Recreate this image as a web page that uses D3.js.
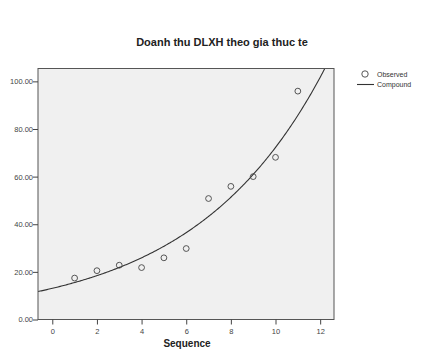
<!DOCTYPE html>
<html><head><meta charset="utf-8">
<script src="https://cdn.jsdelivr.net/npm/d3@7"></script>
<style>body{margin:0;background:#fff}svg{display:block}</style>
</head><body>
<script>
const title = "Doanh thu DLXH theo gia thuc te";
const xLabel = "Sequence";
const sequence = [1,2,3,4,5,6,7,8,9,10,11];
const observed = [17.4,20.5,22.8,21.8,25.9,29.8,50.8,55.9,60.0,68.1,95.9];
const xTicks = [0,2,4,6,8,10,12];
const yTicks = [0,20,40,60,80,100];
const legendLabels = ["Observed","Compound"];

const W=444,H=356;
const svg=d3.select("body").append("svg").attr("width",W).attr("height",H);
const L=38,R=334,T=68.5,B=319.5;
const x=d3.scaleLinear().domain([-0.64,12.62]).range([L,R]);
const y=d3.scaleLinear().domain([0,105.4]).range([B,T]);

// compound fit: ln(y) = ln(b0) + x ln(b1)
const lx=sequence, ly=observed.map(Math.log);
const mx=d3.mean(lx), my=d3.mean(ly);
const slope=d3.sum(lx,(v,i)=>(v-mx)*(ly[i]-my))/d3.sum(lx,v=>(v-mx)*(v-mx));
const b0=Math.exp(my-slope*mx);

svg.append("rect").attr("x",L).attr("y",T).attr("width",R-L).attr("height",B-T).attr("fill","#f0f0f0");

const clip=svg.append("clipPath").attr("id","c").append("rect").attr("x",L).attr("y",T).attr("width",R-L).attr("height",B-T);
const xs=d3.range(-0.64,12.7,0.05);
svg.append("path").attr("clip-path","url(#c)")
  .attr("d",d3.line().x(d=>x(d)).y(d=>y(b0*Math.exp(slope*d)))(xs))
  .attr("fill","none").attr("stroke","#333").attr("stroke-width",1.1);

svg.selectAll("circle.o").data(sequence).join("circle").attr("class","o")
  .attr("cx",d=>x(d)).attr("cy",(d,i)=>y(observed[i])).attr("r",2.9)
  .attr("fill","none").attr("stroke","#444").attr("stroke-width",0.9);

svg.append("rect").attr("x",L).attr("y",T).attr("width",R-L).attr("height",B-T).attr("fill","none").attr("stroke","#555").attr("stroke-width",1);

const font="Liberation Sans, Arial, sans-serif";
const ax=svg.append("g").attr("transform",`translate(0,${B})`)
  .call(d3.axisBottom(x).tickValues(xTicks).tickSize(5).tickSizeOuter(0));
ax.select(".domain").remove();
ax.selectAll("line").attr("stroke","#444");
ax.selectAll("text").attr("font-family",font).attr("font-size",7.5).attr("fill","#444").attr("dy","0.9em");

const ay=svg.append("g").attr("transform",`translate(${L},0)`)
  .call(d3.axisLeft(y).tickValues(yTicks).tickFormat(d3.format(".2f")).tickSize(5).tickSizeOuter(0));
ay.select(".domain").remove();
ay.selectAll("line").attr("stroke","#444");
ay.selectAll("text").attr("font-family",font).attr("font-size",7.5).attr("fill","#444").attr("x",-5);

svg.append("text").attr("x",222).attr("y",46).attr("text-anchor","middle")
  .attr("font-family",font).attr("font-weight","bold").attr("font-size",11).attr("fill","#222").text(title);
svg.append("text").attr("x",187).attr("y",347).attr("text-anchor","middle")
  .attr("font-family",font).attr("font-weight","bold").attr("font-size",10).attr("fill","#222").text(xLabel);

const lg=svg.append("g");
lg.append("circle").attr("cx",365).attr("cy",74).attr("r",3.2).attr("fill","none").attr("stroke","#444").attr("stroke-width",0.9);
lg.append("text").attr("x",377).attr("y",76.5).attr("font-family",font).attr("font-size",7).attr("fill","#333").text(legendLabels[0]);
lg.append("line").attr("x1",357).attr("x2",374).attr("y1",84.5).attr("y2",84.5).attr("stroke","#333").attr("stroke-width",1.1);
lg.append("text").attr("x",377).attr("y",87).attr("font-family",font).attr("font-size",7).attr("fill","#333").text(legendLabels[1]);
</script>
</body></html>
